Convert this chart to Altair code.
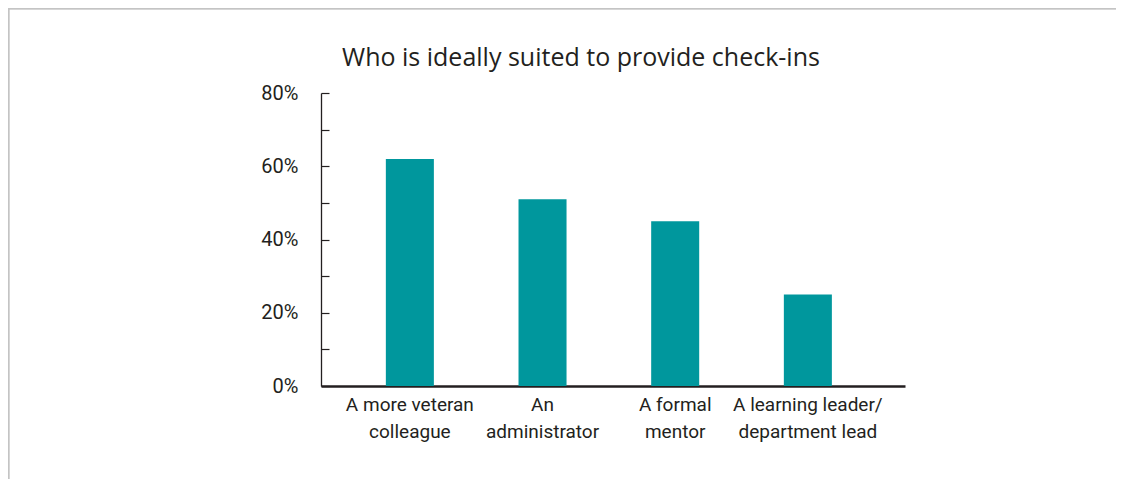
import altair as alt
import pandas as pd

categories = [
    "A more veteran\ncolleague",
    "An\nadministrator",
    "A formal\nmentor",
    "A learning leader/\ndepartment lead",
]
values = [62, 51, 45, 25]
title_text = "Who is ideally suited to provide check-ins"

df = pd.DataFrame({"who": categories, "pct": values})
title_df = pd.DataFrame({"t": [title_text]})

W, H = 584, 293
BAR = "#00979d"
LABEL_FONT = "Roboto"
INK = "#231f20"

x_enc = alt.X(
    "who:N",
    sort=categories,
    title=None,
    scale=alt.Scale(paddingInner=0.638, paddingOuter=0.52, align=0.47),
    axis=alt.Axis(
        labelAngle=0,
        labelExpr="split(datum.label, '\\n')",
        labelFont=LABEL_FONT,
        labelFontSize=19,
        labelColor=INK,
        labelLineHeight=27,
        labelBaseline="top",
        labelPadding=9,
        ticks=False,
        domainColor=INK,
        domainWidth=2.5,
    ),
)

bars = alt.Chart(df).mark_bar(color=BAR).encode(
    x=x_enc,
    y=alt.Y(
        "pct:Q",
        title=None,
        scale=alt.Scale(domain=[0, 80], nice=False),
        axis=alt.Axis(
            values=[0, 20, 40, 60, 80],
            labelExpr="datum.value + '%'",
            labelFont=LABEL_FONT,
            labelFontSize=20,
            labelColor=INK,
            labelPadding=23,
            ticks=False,
            domain=False,
            grid=False,
        ),
    ),
)

ticks_layer = alt.Chart(df).mark_bar(opacity=0).encode(
    x=alt.X("who:N", sort=categories),
    y=alt.Y(
        "pct:Q",
        scale=alt.Scale(domain=[0, 80], nice=False),
        axis=alt.Axis(
            orient="right",
            offset=-W,
            values=[0, 10, 20, 30, 40, 50, 60, 70, 80],
            labels=False,
            ticks=True,
            tickSize=8,
            tickColor=INK,
            tickWidth=1.2,
            domain=True,
            domainColor=INK,
            domainWidth=1.3,
            grid=False,
            title=None,
        ),
    ),
)

title_mark = alt.Chart(title_df).mark_text(
    font="Open Sans",
    fontSize=25,
    color=INK,
    align="center",
    baseline="middle",
).encode(text="t:N", x=alt.value(260), y=alt.value(-35))

frame_top = alt.Chart(df).mark_rule(color="#c4c4c4", strokeWidth=1.5).encode(
    x=alt.value(-312.5), x2=alt.value(900), y=alt.value(-84.5)
)
frame_left = alt.Chart(df).mark_rule(color="#c4c4c4", strokeWidth=1.5).encode(
    x=alt.value(-312.5), y=alt.value(-84.5), y2=alt.value(500)
)

chart = (
    alt.layer(frame_top, frame_left, title_mark, bars, ticks_layer)
    .resolve_scale(y="independent")
    .resolve_axis(y="independent")
    .properties(
        width=W,
        height=H,
        background="white",
        autosize=alt.AutoSizeParams(type="none"),
        padding={"left": 313, "top": 85, "right": 211, "bottom": 93},
    )
    .configure_view(stroke="transparent", strokeWidth=0)
)

chart.save("out.html", embed_options={"renderer": "svg", "actions": False})
